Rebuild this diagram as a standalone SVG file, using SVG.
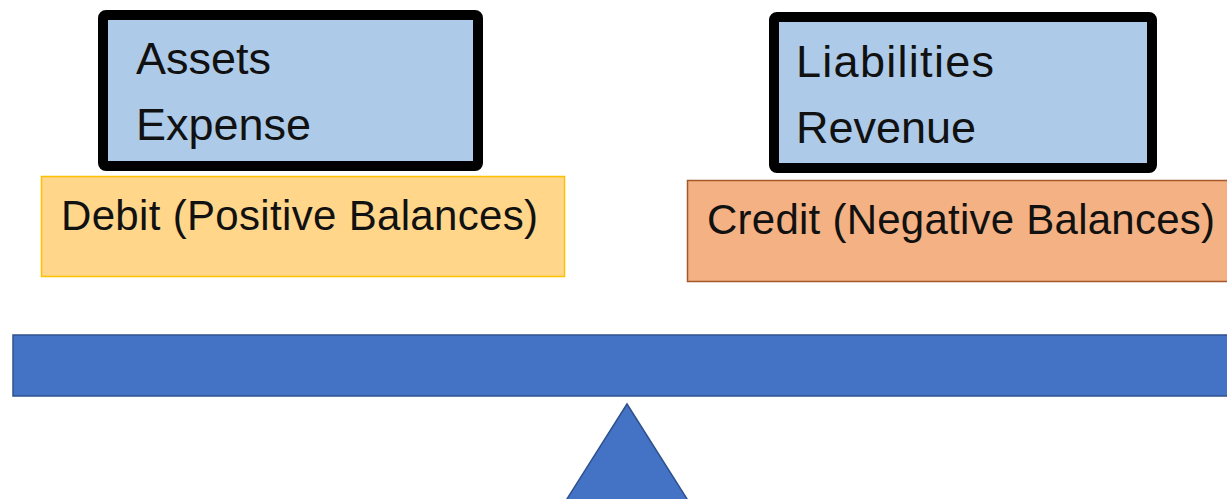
<svg xmlns="http://www.w3.org/2000/svg" width="1227" height="499" viewBox="0 0 1227 499">
  <style>
    .label { font-family: "Liberation Sans", Arial, sans-serif; fill: #111; }
    .big { font-size: 45px; }
    .mid { font-size: 42px; }
    .account { fill: #ADCBE9; stroke: #000; stroke-width: 10; }
    .beam { fill: #4472C4; stroke: #2F528F; stroke-width: 1.5; }
  </style>

  <!-- balance beam and fulcrum -->
  <g id="scale">
    <rect class="beam" x="13" y="335" width="1230" height="61"/>
    <polygon class="beam" points="627,404 694,510 560,510"/>
  </g>

  <!-- debit side -->
  <g id="debit-accounts">
    <rect class="account" x="103" y="15" width="375" height="151" rx="3"/>
    <text class="label big" x="136" y="74">Assets</text>
    <text class="label big" x="136" y="140">Expense</text>
  </g>
  <g id="debit">
    <rect x="41.5" y="176.5" width="523" height="100" fill="#FFD68A" stroke="#FFC000" stroke-width="1.5"/>
    <text class="label mid" x="61" y="230" textLength="477">Debit (Positive Balances)</text>
  </g>

  <!-- credit side -->
  <g id="credit-accounts">
    <rect class="account" x="774" y="17" width="378" height="151" rx="3"/>
    <text class="label big" x="796" y="77" textLength="198">Liabilities</text>
    <text class="label big" x="796" y="143">Revenue</text>
  </g>
  <g id="credit">
    <rect x="687.5" y="180.5" width="560" height="101" fill="#F4B183" stroke="#A5582A" stroke-width="1.5"/>
    <text class="label mid" x="707" y="234" textLength="508">Credit (Negative Balances)</text>
  </g>

  <!-- no connectors in this drawing -->
  <g id="connectors"/>
</svg>
